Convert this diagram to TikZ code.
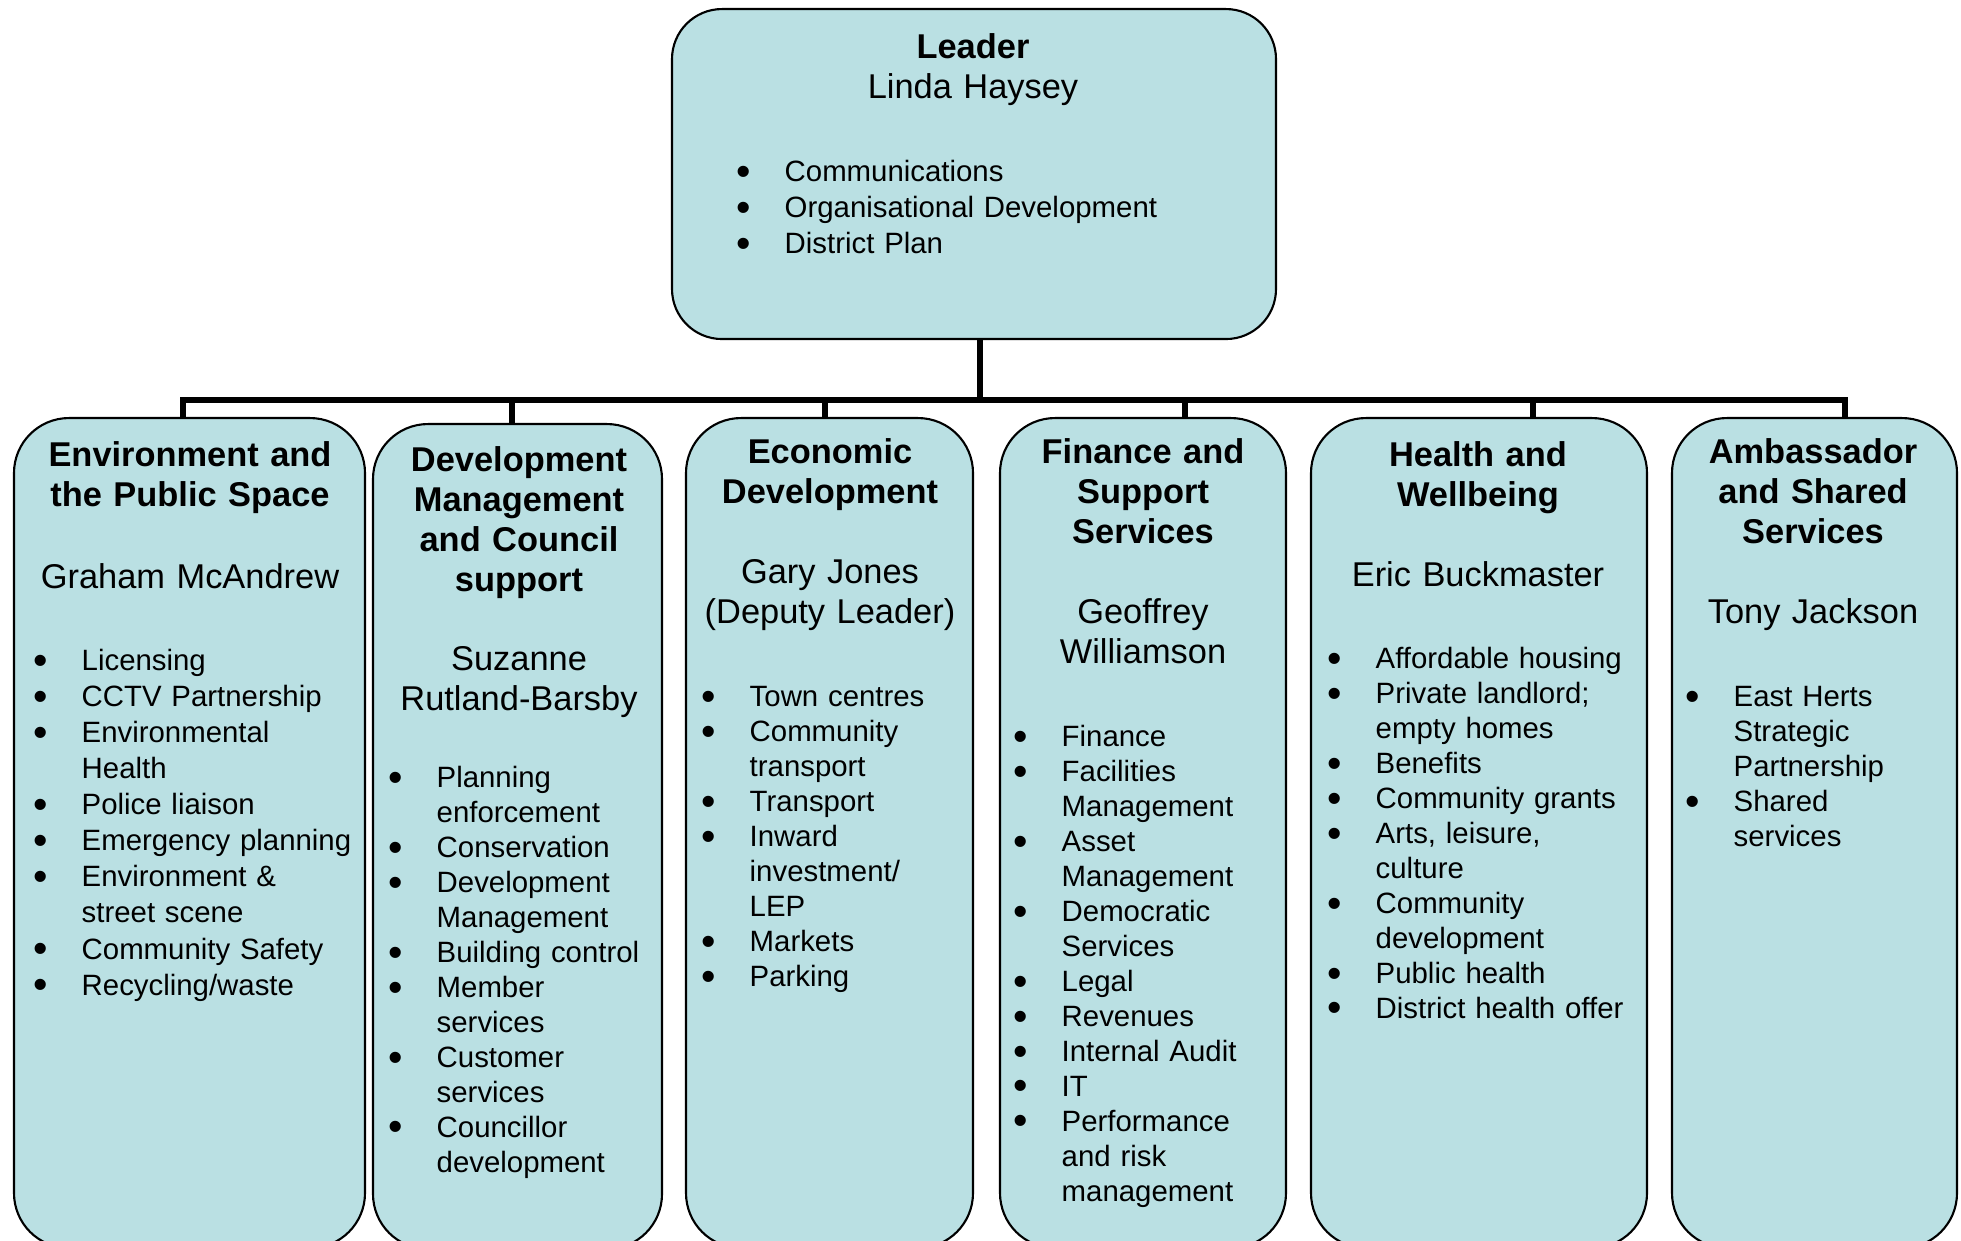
\documentclass[tikz,border=0pt]{standalone}
\usepackage{fontspec}
\usepackage{graphicx}
\setmainfont{Liberation Sans}
\definecolor{unitfill}{RGB}{186,224,227}
\newlength\bind
\setlength\bind{4.6mm}
\newcommand\headsize{\fontsize{9.79}{11.38}\selectfont}
\newcommand\bodysize{\fontsize{8.36}{9.95}\selectfont}
\newcommand\widesize{\fontsize{8.36}{10.25}\selectfont}
\newcommand\dutymark{\raisebox{-0.12em}{\scalebox{1.4}{\textbullet}}}
\newcommand\duty[1]{\par\hangindent=\bind\hangafter=1\noindent\hbox to\bind{\kern-0.2mm\dutymark\hss}\strut{\let\\\newline #1}\par}
\begin{document}
\begin{tikzpicture}[x=0.1mm, y=-0.1mm,
    unitbox/.style={draw=black, line width=0.6pt, fill=unitfill, rounded corners=5.5mm, anchor=north, inner sep=0pt},
    leadbox/.style={unitbox, rounded corners=5mm},
    head/.style={anchor=north, inner sep=0pt, text width=#1, align=center, font=\headsize, yshift=7.97pt},
    head/.default=30mm,
    duties/.style={anchor=north west, inner sep=0pt, text width=#1, align=left, font=\bodysize, yshift=10.5pt},
    duties/.default=26mm,
    link/.style={line width=0.6mm}]
  \useasboundingbox (0,0) rectangle (1961,1241);
  % boxes
  \node[leadbox, minimum width=60.4mm, minimum height=33mm] (lead) at (974,8) {};
  \node[unitbox, minimum width=35.1mm, minimum height=83mm] (env) at (189.5,417) {};
  \node[unitbox, minimum width=28.9mm, minimum height=82.5mm] (dev) at (517.5,423) {};
  \node[unitbox, minimum width=28.7mm, minimum height=83mm] (eco) at (829.5,417) {};
  \node[unitbox, minimum width=28.6mm, minimum height=83mm] (fin) at (1143,417) {};
  \node[unitbox, minimum width=33.6mm, minimum height=83mm] (hea) at (1479,417) {};
  \node[unitbox, minimum width=28.5mm, minimum height=83mm] (amb) at (1814.5,417) {};
  % leader
  \node[head=50mm] (leadhead) at (973,58) {\strut\textbf{Leader}\\Linda Haysey};
  \node[duties=45mm, font=\widesize] (leadlist) at (738,182) {\duty{Communications}\duty{Organisational Development}\duty{District Plan}};
  % environment
  \node[head=34mm] (envhead) at (190,466) {\strut\bfseries Environment and\\the Public Space};
  \node[head=34mm] (envname) at (190,588) {\strut Graham McAndrew};
  \node[duties=33mm, font=\widesize] (envlist) at (35,671) {\duty{Licensing}\duty{CCTV Partnership}\duty{Environmental\\Health}\duty{Police liaison}\duty{Emergency planning}\duty{Environment \&\\street scene}\duty{Community Safety}\duty{Recycling/waste}};
  % development management
  \node[head=28mm] (devhead) at (519,471) {\strut\bfseries Development\\Management\\and Council\\support};
  \node[head=28mm] (devname) at (519,670) {\strut Suzanne\\Rutland-Barsby};
  \node[duties=27mm] (devlist) at (390,789) {\duty{Planning\\enforcement}\duty{Conservation}\duty{Development\\Management}\duty{Building control}\duty{Member\\services}\duty{Customer\\services}\duty{Councillor\\development}};
  % economic development
  \node[head=28mm] (ecohead) at (830,463) {\strut\bfseries Economic\\Development};
  \node[head=28mm] (econame) at (830,583) {\strut Gary Jones\\(Deputy Leader)};
  \node[duties] (ecolist) at (703,708) {\duty{Town centres}\duty{Community\\transport}\duty{Transport}\duty{Inward\\investment/\\LEP}\duty{Markets}\duty{Parking}};
  % finance
  \node[head=28mm] (finhead) at (1143,463) {\strut\bfseries Finance and\\Support\\Services};
  \node[head=28mm] (finname) at (1143,623) {\strut Geoffrey\\Williamson};
  \node[duties] (finlist) at (1015,748) {\duty{Finance}\duty{Facilities\\Management}\duty{Asset\\Management}\duty{Democratic\\Services}\duty{Legal}\duty{Revenues}\duty{Internal Audit}\duty{IT}\duty{Performance\\and risk\\management}};
  % health
  \node[head=32mm] (heahead) at (1478,466) {\strut\bfseries Health and\\Wellbeing};
  \node[head=32mm] (heaname) at (1478,586) {\strut Eric Buckmaster};
  \node[duties=31mm] (healist) at (1329,670) {\duty{Affordable housing}\duty{Private landlord;\\empty homes}\duty{Benefits}\duty{Community grants}\duty{Arts, leisure,\\culture}\duty{Community\\development}\duty{Public health}\duty{District health offer}};
  % ambassador
  \node[head=28mm] (ambhead) at (1813,463) {\strut\bfseries Ambassador\\and Shared\\Services};
  \node[head=28mm] (ambname) at (1813,623) {\strut Tony Jackson};
  \node[duties] (amblist) at (1687,708) {\duty{East Herts\\Strategic\\Partnership}\duty{Shared\\services}};
  % connectors
  \coordinate (hub) at (980,400);
  \coordinate (denv) at (183,400);
  \coordinate (ddev) at (512,400);
  \coordinate (deco) at (825,400);
  \coordinate (dfin) at (1185,400);
  \coordinate (dhea) at (1533,400);
  \coordinate (damb) at (1845,400);
  \begin{scope}[link]
    \draw (lead.south -| hub) -- (hub);
    \draw (denv |- env.north) -- (denv) -- (damb) -- (damb |- amb.north);
    \draw (ddev) -- (ddev |- dev.north);
    \draw (deco) -- (deco |- eco.north);
    \draw (dfin) -- (dfin |- fin.north);
    \draw (dhea) -- (dhea |- hea.north);
  \end{scope}
\end{tikzpicture}
\end{document}
